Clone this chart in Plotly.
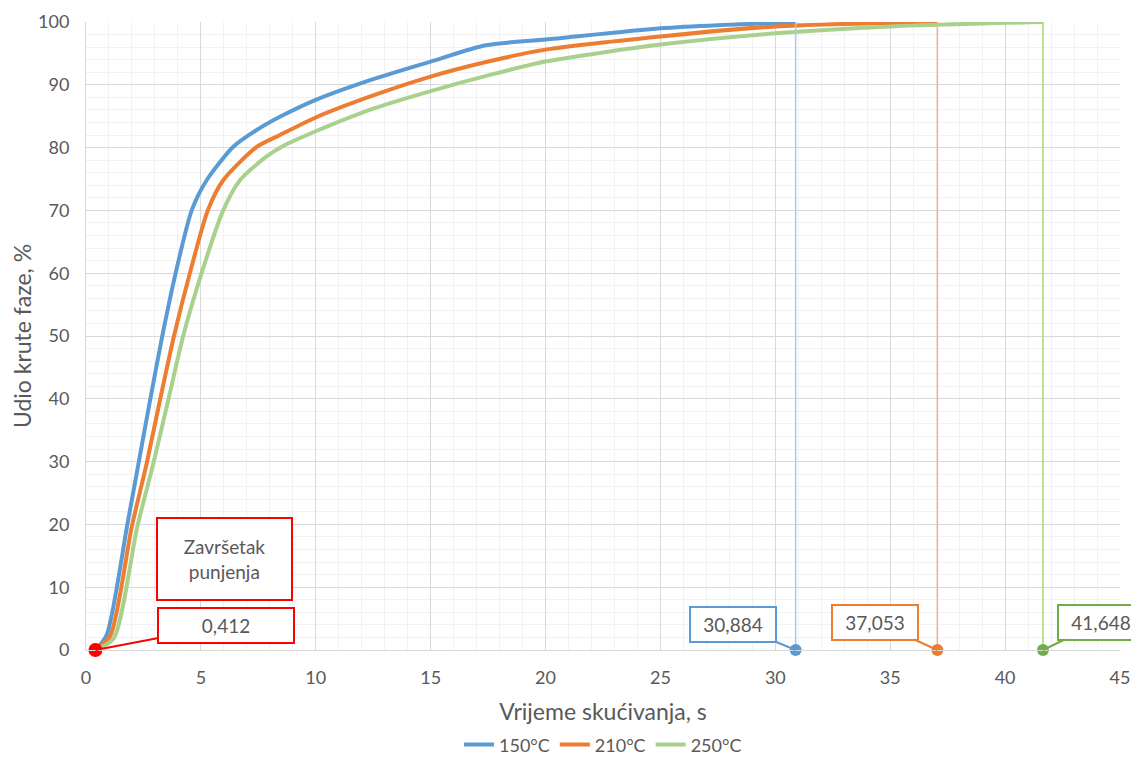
import plotly.graph_objects as go

# ---- data ----
x_150 = [0.412, 0.9, 1.80, 2.30, 2.80, 3.32, 3.90, 4.60, 5.25, 6.4, 7.43, 8.44, 10, 12.5, 15, 17.4, 20, 25, 27.5, 30.884]
y_150 = [0, 2.4, 20, 30, 40, 50, 60, 70, 74.8, 80.1, 82.8, 84.9, 87.6, 90.9, 93.7, 96.3, 97.2, 99.0, 99.5, 99.9]

x_210 = [0.412, 1.05, 1.99, 2.64, 3.22, 3.83, 4.52, 5.3, 5.97, 7.43, 8.44, 10, 12.5, 15, 17.5, 20, 25, 30, 37.053]
y_210 = [0, 2.2, 19.6, 29.7, 39.8, 50, 60, 70, 74.8, 80.1, 82.0, 84.8, 88.3, 91.3, 93.7, 95.6, 97.7, 99.3, 100]

x_250 = [0.412, 1.2, 2.23, 2.93, 3.58, 4.23, 5.03, 5.97, 6.7, 7.86, 8.6, 10, 12.5, 15, 17.5, 20, 25, 30, 35, 41.648]
y_250 = [0, 1.8, 19.6, 29.7, 39.8, 50, 60, 70, 74.8, 78.6, 80.3, 82.6, 86.2, 89.0, 91.5, 93.7, 96.4, 98.2, 99.3, 100]

series_names = ["150°C", "210°C", "250°C"]
end_times = [30.884, 37.053, 41.648]
end_labels = ["30,884", "37,053", "41,648"]
fill_time = 0.412
fill_label = "0,412"
fill_text = "Završetak<br>punjenja"

line_colors = ["#5B9BD5", "#ED7D31", "#A9D18E"]
drop_colors = ["#A8C9EA", "#F5B48A", "#A6D873"]
marker_colors = ["#5B9BD5", "#ED7D31", "#70AD47"]
TXT = "#595959"
FONT = "Lato, Open Sans, sans-serif"

fig = go.Figure()
xs = [x_150, x_210, x_250]
ys = [y_150, y_210, y_250]
for name, x, y, c in zip(series_names, xs, ys, line_colors):
    fig.add_trace(go.Scatter(x=x, y=y, mode="lines", name=name,
                             line=dict(color=c, width=4, shape="spline", smoothing=0.7)))

for x, y, t, dc, mc in zip(xs, ys, end_times, drop_colors, marker_colors):
    fig.add_trace(go.Scatter(x=[t, t], y=[y[-1], 0], mode="lines", showlegend=False,
                             line=dict(color=dc, width=1.5)))
    fig.add_trace(go.Scatter(x=[t], y=[0], mode="markers", showlegend=False, cliponaxis=False,
                             marker=dict(color=mc, size=12)))

fig.add_trace(go.Scatter(x=[fill_time], y=[0], mode="markers", showlegend=False, cliponaxis=False,
                         marker=dict(color="#FF0000", size=14)))

# callouts
offsets = [(-63, -26), (-62, -28), (58, -28)]
for t, lab, mc, (ax, ay) in zip(end_times, end_labels, marker_colors, offsets):
    fig.add_annotation(x=t, y=0, text=lab, showarrow=True, ax=ax, ay=ay,
                       arrowhead=0, arrowwidth=2, arrowcolor=mc, standoff=0,
                       bordercolor=mc, borderwidth=2, borderpad=5, bgcolor="white",
                       width=74, font=dict(size=19, color=TXT, family=FONT))

fig.add_annotation(x=fill_time, y=0, text=fill_label, showarrow=True, ax=131, ay=-25,
                   arrowhead=0, arrowwidth=2, arrowcolor="#FF0000", standoff=0,
                   bordercolor="#FF0000", borderwidth=2, borderpad=5, bgcolor="white",
                   width=124, font=dict(size=19, color=TXT, family=FONT))
fig.add_annotation(x=6.03, y=14.5, text=fill_text, showarrow=False,
                   bordercolor="#FF0000", borderwidth=2, borderpad=4, bgcolor="white",
                   width=125, height=72, font=dict(size=19, color=TXT, family=FONT))

# page body has an 8px default margin -> compensate
fig.update_layout(
    width=1139, height=760,
    margin=dict(l=78, r=27, t=14, b=118, autoexpand=False),
    paper_bgcolor="white", plot_bgcolor="white",
    font=dict(family=FONT, color=TXT, size=18),
    showlegend=True,
    legend=dict(orientation="h", x=0.5, xanchor="center", y=-0.151, yanchor="middle",
                font=dict(size=18, color=TXT)),
    hovermode=False,
)
fig.update_xaxes(range=[0, 45], dtick=5, showgrid=True, gridcolor="#D9D9D9", gridwidth=1,
                 minor=dict(dtick=1, showgrid=True, gridcolor="#F2F2F2"),
                 zeroline=False, showline=True, linecolor="#D9D9D9", automargin=False,
                 ticklabelstandoff=11,
                 tickfont=dict(size=18, color=TXT),
                 title=dict(text="Vrijeme skućivanja, s", font=dict(size=23, color=TXT), standoff=17))
fig.update_yaxes(range=[0, 100], dtick=10, showgrid=True, gridcolor="#D9D9D9", gridwidth=1,
                 minor=dict(dtick=2, showgrid=True, gridcolor="#F2F2F2"),
                 zeroline=False, showline=True, linecolor="#D9D9D9", automargin=False,
                 ticklabelstandoff=12,
                 tickfont=dict(size=18, color=TXT),
                 title=dict(text="Udio krute faze, %", font=dict(size=23, color=TXT), standoff=0))

fig.write_html("out.html")
